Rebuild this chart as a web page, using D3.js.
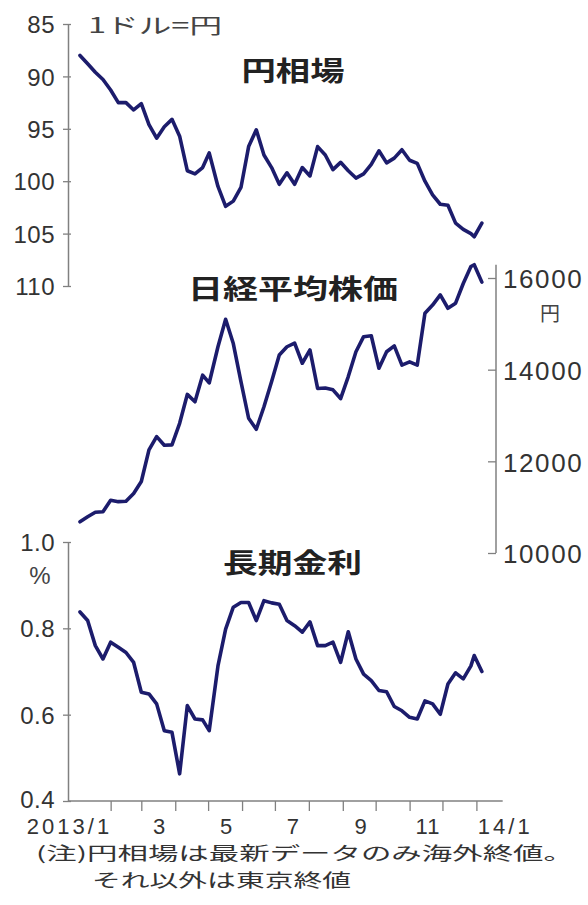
<!DOCTYPE html>
<html><head><meta charset="utf-8">
<script src="https://cdn.jsdelivr.net/npm/d3@7"></script>
<style>body{margin:0;background:#fff}svg{display:block}</style>
</head><body><svg id="c" width="588" height="905"></svg>
<script>
// ---- data ----
const dates = ["2013-01-04","2013-01-11","2013-01-18","2013-01-25","2013-02-01","2013-02-08","2013-02-15","2013-02-22",
"2013-03-01","2013-03-08","2013-03-15","2013-03-22","2013-03-29","2013-04-05","2013-04-12","2013-04-19","2013-04-26",
"2013-05-02","2013-05-10","2013-05-17","2013-05-24","2013-05-31","2013-06-07","2013-06-14","2013-06-21","2013-06-28",
"2013-07-05","2013-07-12","2013-07-19","2013-07-26","2013-08-02","2013-08-09","2013-08-16","2013-08-23","2013-08-30",
"2013-09-06","2013-09-13","2013-09-20","2013-09-27","2013-10-04","2013-10-11","2013-10-18","2013-10-25","2013-11-01",
"2013-11-08","2013-11-15","2013-11-22","2013-11-29","2013-12-06","2013-12-13","2013-12-20","2013-12-27","2013-12-30","2014-01-06"];
const yenValues = [88.0,88.8,89.6,90.3,91.3,92.5,92.5,93.2,92.6,94.6,95.9,94.8,94.1,95.7,99.0,99.3,98.7,97.3,100.5,102.4,
101.9,100.6,96.7,95.1,97.5,98.7,100.3,99.2,100.3,98.7,99.5,96.7,97.5,98.9,98.2,99.0,99.7,99.3,98.4,97.1,98.25,97.8,97.0,
98.0,98.3,100.0,101.3,102.2,102.3,104.0,104.6,105.0,105.3,104.0];
const nikkeiValues = [10680,10790,10890,10900,11150,11120,11130,11300,11560,12250,12540,12350,12360,12830,13460,13300,13880,
13710,14500,15100,14570,13740,12940,12700,13190,13740,14320,14500,14580,14140,14430,13590,13600,13560,13370,13850,14390,
14720,14740,14030,14390,14520,14100,14170,14100,15230,15410,15630,15340,15450,15880,16250,16290,15910];
const jgbValues = [0.838,0.818,0.760,0.729,0.768,0.756,0.744,0.721,0.652,0.648,0.625,0.563,0.559,0.463,0.621,0.590,0.588,
0.563,0.713,0.798,0.849,0.860,0.860,0.818,0.864,0.859,0.856,0.818,0.806,0.791,0.815,0.760,0.760,0.768,0.721,0.792,0.729,
0.694,0.679,0.656,0.653,0.619,0.609,0.594,0.590,0.632,0.625,0.601,0.671,0.697,0.683,0.713,0.737,0.700];
const yenTicks = [85,90,95,100,105,110];
const nikkeiTicks = [10000,12000,14000,16000];
const jgbTicks = [0.4,0.6,0.8,1.0];
const monthTicks = ["2013-02-01","2013-03-01","2013-04-01","2013-05-01","2013-06-01","2013-07-01","2013-08-01",
"2013-09-01","2013-10-01","2013-11-01","2013-12-01","2014-01-01"];
const xLabelDates = ["2013-01-16","2013-03-16","2013-05-16","2013-07-16","2013-09-16","2013-11-16","2014-01-16"];
const xLabelTexts = ["2013/1","3","5","7","9","11","14/1"];
const titles = ["円相場","日経平均株価","長期金利"];
const footnoteLines = ["(注)円相場は最新データのみ海外終値。","それ以外は東京終値"];

// ---- drawing ----
const parse = d3.utcParse("%Y-%m-%d");
const svg = d3.select("#c");
const NUM = "'Liberation Sans', Arial, sans-serif";
const JP = "'Noto Sans CJK JP', 'Noto Sans', sans-serif";
const AX = "#808080", LINE = "#1c1c6c";

const x = d3.scaleUtc().domain([parse("2013-01-01"), parse("2014-01-01")]).range([76.7, 476.4]);
const yYen = d3.scaleLinear().domain([85,110]).range([24,286]);
const yNik = d3.scaleLinear().domain([10000,16000]).range([553,278]);
const yJgb = d3.scaleLinear().domain([0.4,1.0]).range([801,542]);
const axL = 68, axR = 496;

function styleAxis(g, fs, ls){
  g.select(".domain").attr("stroke", AX).attr("stroke-width", 1.5);
  g.selectAll(".tick line").attr("stroke", AX).attr("stroke-width", 1.3);
  g.selectAll(".tick text").attr("fill", "#333").attr("font-family", NUM)
    .attr("font-size", fs).attr("letter-spacing", ls);
}

// left axes
const gY1 = svg.append("g").attr("transform", `translate(${axL},0)`)
  .call(d3.axisLeft(yYen).tickValues(yenTicks).tickSizeInner(5).tickSizeOuter(0).tickPadding(8));
styleAxis(gY1, 24, 0.5);
gY1.selectAll(".tick line").attr("x1", 3);
gY1.selectAll(".tick text").attr("dy", "0.36em");

const gY3 = svg.append("g").attr("transform", `translate(${axL},0)`)
  .call(d3.axisLeft(yJgb).tickValues(jgbTicks).tickFormat(d3.format(".1f")).tickSizeInner(5).tickSizeOuter(0).tickPadding(8));
styleAxis(gY3, 24, 0.5);
gY3.selectAll(".tick line").attr("x1", 3);
gY3.selectAll(".tick text").attr("dy", d => d === 0.4 ? "0.28em" : "0.36em");

// right axis
const gY2 = svg.append("g").attr("transform", `translate(${axR},0)`)
  .call(d3.axisRight(yNik).tickValues(nikkeiTicks).tickFormat(d3.format("d")).tickSizeInner(-8).tickSizeOuter(0).tickPadding(7));
styleAxis(gY2, 26, 1.6);
gY2.select(".domain").attr("d", `M0,${yNik(16290)}V${yNik(10000)}`);
gY2.selectAll(".tick text").attr("dy", "0.38em");

// bottom axis
const gX = svg.append("g").attr("transform", `translate(0,${yJgb(0.4)})`)
  .call(d3.axisBottom(x).tickValues(monthTicks.map(parse)).tickSizeInner(10).tickSizeOuter(0).tickFormat(""));
styleAxis(gX, 24, 0);
gX.select(".domain").attr("d", `M${axL},0H${x(parse("2014-01-25"))}`);

svg.append("g").selectAll("text").data(xLabelTexts).join("text")
  .attr("x", (t,i) => {
    const px = x(parse(xLabelDates[i]));
    return i === 0 ? px + 19 : (i === xLabelTexts.length-1 ? px - 15 : px + 2);
  })
  .attr("y", 834)
  .attr("text-anchor", (t,i) => i === 0 ? "end" : (i === xLabelTexts.length-1 ? "start" : "middle"))
  .attr("font-family", NUM).attr("font-size", 22).attr("fill", "#333")
  .attr("letter-spacing", (t,i) => (i === 0 || i === xLabelTexts.length-1) ? 3 : 1)
  .text(t => t);

// lines
const pts = vals => vals.map((v,i) => ({date: parse(dates[i]), v}));
function drawLine(vals, y){
  svg.append("path").datum(pts(vals))
    .attr("fill","none").attr("stroke", LINE).attr("stroke-width", 3.6)
    .attr("stroke-linejoin","round").attr("stroke-linecap","round")
    .attr("d", d3.line().x(d => x(d.date)).y(d => y(d.v)));
}
drawLine(yenValues, yYen);
drawLine(nikkeiValues, yNik);
drawLine(jgbValues, yJgb);

// titles
const titlePos = [{cx:293, cy:70.5, w:103}, {cx:293, cy:288.5, w:210}, {cx:292.5, cy:563, w:139}];
titles.forEach((t,i) => {
  const p = titlePos[i];
  svg.append("text").attr("x", p.cx - p.w/2).attr("y", p.cy + 10)
    .attr("font-family", JP).attr("font-weight", 700).attr("font-size", 27).attr("fill", "#222")
    .attr("textLength", p.w).attr("lengthAdjust", "spacingAndGlyphs").text(t);
});

// unit labels
svg.append("text").attr("x", 88).attr("y", 33).attr("font-family", JP).attr("font-size", 21)
  .attr("fill", "#444").attr("textLength", 134).attr("lengthAdjust", "spacingAndGlyphs").text("1ドル=円");
svg.append("text").attr("x", 550).attr("y", 321).attr("text-anchor","middle").attr("font-family", JP)
  .attr("font-size", 20).attr("fill", "#444").text("円");
svg.append("text").attr("x", 40).attr("y", 584).attr("text-anchor","middle").attr("font-family", NUM)
  .attr("font-size", 24).attr("fill", "#444").text("%");

// footnote (one text block, two lines)
const fn = svg.append("text").attr("font-family", JP).attr("font-size", 18).attr("fill", "#333");
const fnPos = [{x:36, y:860, w:538}, {x:92, y:887, w:259}];
footnoteLines.forEach((t,i) => {
  fn.append("tspan").attr("x", fnPos[i].x).attr("y", fnPos[i].y)
    .attr("textLength", fnPos[i].w).attr("lengthAdjust", "spacingAndGlyphs").text(t);
});
</script></body></html>
